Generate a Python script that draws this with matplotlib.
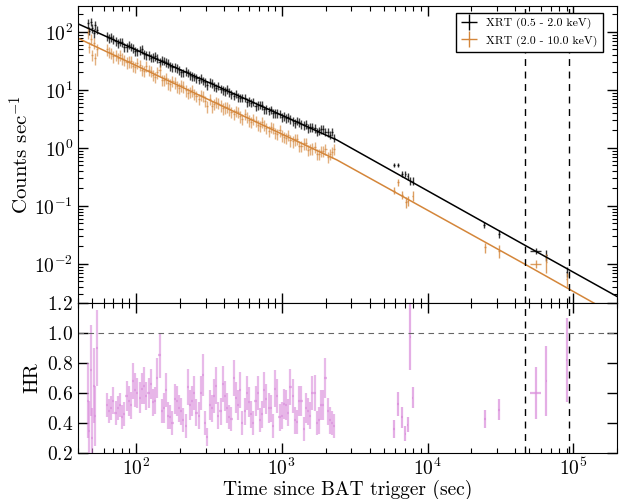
#!/usr/bin/env python3
"""
Swift XRT light curve in two bands with hardness ratio panel.
"""

import matplotlib
matplotlib.use("Agg")
import matplotlib.pyplot as plt
import matplotlib.ticker as ticker
from matplotlib.lines import Line2D
import numpy as np

plt.rcParams["font.family"] = "serif"
plt.rcParams["font.serif"] = ["cmr10"]
plt.rcParams["mathtext.fontset"] = "cm"
plt.rcParams["axes.unicode_minus"] = False

# ---- data ----
T_DENSE = [46.8, 47.9, 49.0, 50.1, 51.3, 52.5, 53.7,
           63.1, 67.6, 72.4, 77.6, 83.2, 89.1, 95.5,
           102, 110, 117, 126, 135, 145, 155, 166, 178, 191,
           204, 219, 234, 251, 269, 288, 309, 331, 355, 380,
           407, 437, 468, 501, 537, 575, 617, 661, 708, 759,
           813, 871, 933, 1000, 1072, 1148, 1230, 1318, 1413, 1514,
           1622, 1738, 1862, 1995, 2138, 2291]

SOFT_DENSE = [140, 105, 150, 115, 95, 130, 110,
              85, 82, 70, 68, 55, 60, 52,
              46, 50, 40, 36, 38, 30, 32, 29, 25, 24,
              20, 21, 18, 17, 15, 14.5, 12, 13, 11, 10.5,
              9.5, 9.2, 8.0, 7.5, 7.4, 6.2, 6.0, 5.2, 5.6, 4.6,
              4.4, 4.0, 4.0, 3.4, 3.3, 3.1, 2.7, 2.8, 2.5, 2.2,
              2.3, 1.9, 2.1, 1.9, 1.7, 1.5]

HARD_DENSE = [95, 55, 75, 40, 65, 35, 50,
              50, 44, 40, 40, 33, 31, 26,
              29, 22, 26, 21, 17, 22, 15, 13, 14.5, 11.5,
              12, 9.8, 9.2, 8.6, 7.0, 8.0, 5.2, 5.2, 6.2, 5.4,
              5.0, 4.6, 3.9, 4.2, 3.2, 3.4, 2.8, 2.9, 2.4, 2.5,
              1.95, 2.2, 1.75, 1.65, 1.5, 1.35, 1.4, 1.1, 1.2, 0.92,
              0.98, 0.8, 0.88, 0.95, 0.78, 0.95]

T_DENSE2 = [65.3, 70.0, 75.0, 80.4, 86.1, 92.3, 98.9, 106, 114, 122,
            130, 140, 150, 160, 172, 184, 197, 211, 226, 243,
            260, 279, 299, 320, 343, 367, 394, 422, 452, 484,
            519, 556, 596, 638, 684, 733, 785, 841, 902, 966,
            1035, 1109, 1189, 1274, 1365, 1462, 1567, 1679, 1799, 1928,
            2065, 2213]

SOFT_DENSE2 = [78, 76, 64, 66, 55, 56, 47, 48, 41, 40,
               37, 35, 33, 30, 26, 25, 22, 20, 20, 17.5,
               16, 15.8, 13.5, 13.8, 11.5, 11.8, 10, 10.2, 8.5, 8.6,
               7.4, 7.4, 6.4, 6.3, 5.5, 5.4, 4.7, 4.6, 4.0, 3.9,
               3.5, 3.4, 2.9, 2.95, 2.6, 2.55, 2.3, 2.2, 2.0, 2.1,
               1.85, 1.9]

HARD_DENSE2 = [45, 38, 36, 35, 30, 31, 25, 27, 21, 22,
               18, 20, 15, 16, 12.5, 13.5, 11, 11.5, 9.0, 9.8,
               8.0, 8.3, 6.5, 7.0, 5.8, 6.0, 4.8, 5.1, 4.2, 4.4,
               3.5, 3.9, 3.0, 3.2, 2.5, 2.8, 2.2, 2.3, 1.8, 2.0,
               1.55, 1.7, 1.3, 1.45, 1.1, 1.2, 0.95, 1.05, 0.8, 0.9,
               0.7, 0.85]

SOFT_FRAC_ERR = 0.17
HARD_FRAC_ERR = 0.22
DENSE_FRAC_XERR = 0.017

T_SOFT_SPARSE = [5860, 6250, 6700, 7060, 7300, 7640, 7900, 24400, 30900, 55200, 65500, 90200]
SOFT_SPARSE = [0.51, 0.51, 0.356, 0.356, 0.325, 0.27, 0.27, 0.047, 0.033, 0.0169, 0.0143, 0.0074]
SOFT_SPARSE_ERR = [0.05, 0.05, 0.04, 0.04, 0.04, 0.04, 0.04, 0.005, 0.005, 0.002, 0.003, 0.0015]
SOFT_SPARSE_XERR = [100, 100, 100, 100, 100, 100, 100, 300, 300, 4500, 600, 600]

T_HARD_SPARSE = [5860, 6250, 6700, 7130, 7300, 7900, 24700, 30900, 55200, 65500, 90200]
HARD_SPARSE = [0.184, 0.256, 0.155, 0.116, 0.124, 0.151, 0.0194, 0.0169, 0.0100, 0.011, 0.0055]
HARD_SPARSE_ERR = [0.025, 0.035, 0.025, 0.025, 0.025, 0.03, 0.004, 0.004, 0.0015, 0.004, 0.0015]
HARD_SPARSE_XERR = [100, 100, 100, 100, 100, 100, 300, 300, 4500, 600, 600]

# broken power-law fits
FIT_T_SOFT = [40, 2390, 3470, 48400, 2.02e5]
FIT_SOFT = [138, 1.37, 0.81, 0.0199, 0.0027]
FIT_T_HARD = [40, 2390, 47600, 2.02e5]
FIT_HARD = [77.8, 0.621, 0.0096, 0.00124]

HR_DENSE = [0.55, 0.35, 0.75, 0.30, 0.65, 0.45, 0.90,
            0.52, 0.50, 0.47, 0.52, 0.46, 0.55, 0.68,
            0.60, 0.63, 0.58, 0.66, 0.55, 0.85, 0.50, 0.45, 0.40, 0.55,
            0.48, 0.38, 0.52, 0.60, 0.45, 0.72, 0.31, 0.50, 0.65, 0.48,
            0.58, 0.44, 0.70, 0.52, 0.40, 0.60, 0.46, 0.55, 0.42, 0.62,
            0.50, 0.38, 0.58, 0.45, 0.52, 0.64, 0.42, 0.55, 0.36, 0.48,
            0.60, 0.40, 0.52, 0.70, 0.42, 0.38]
HR_DENSE_ERR = [0.25, 0.20, 0.30, 0.20, 0.25, 0.20, 0.25,
                0.08, 0.08, 0.08, 0.08, 0.08, 0.10, 0.12,
                0.10, 0.10, 0.09, 0.10, 0.09, 0.15, 0.10, 0.09, 0.08, 0.10,
                0.09, 0.08, 0.10, 0.11, 0.09, 0.14, 0.06, 0.09, 0.12, 0.09,
                0.10, 0.08, 0.12, 0.10, 0.08, 0.11, 0.09, 0.10, 0.08, 0.12,
                0.10, 0.08, 0.11, 0.09, 0.10, 0.12, 0.09, 0.10, 0.08, 0.09,
                0.11, 0.08, 0.10, 0.13, 0.09, 0.08]

HR_DENSE2 = [0.48, 0.55, 0.50, 0.44, 0.58, 0.52, 0.62, 0.57, 0.65, 0.60,
             0.54, 0.70, 0.48, 0.62, 0.44, 0.56, 0.50, 0.42, 0.64, 0.55,
             0.47, 0.60, 0.40, 0.52, 0.58, 0.45, 0.66, 0.50, 0.43, 0.57,
             0.62, 0.48, 0.54, 0.40, 0.60, 0.46, 0.56, 0.50, 0.63, 0.44,
             0.53, 0.47, 0.58, 0.41, 0.55, 0.50, 0.45, 0.60, 0.42, 0.52,
             0.48, 0.40]
HR_DENSE2_ERR = [0.08, 0.09, 0.08, 0.08, 0.10, 0.09, 0.11, 0.10, 0.12, 0.10,
                 0.09, 0.13, 0.08, 0.11, 0.08, 0.10, 0.09, 0.08, 0.12, 0.10,
                 0.09, 0.11, 0.08, 0.10, 0.11, 0.09, 0.12, 0.10, 0.08, 0.10,
                 0.12, 0.09, 0.10, 0.08, 0.11, 0.09, 0.10, 0.09, 0.12, 0.09,
                 0.10, 0.09, 0.11, 0.08, 0.10, 0.10, 0.09, 0.12, 0.09, 0.10,
                 0.09, 0.08]

T_HR_SPARSE = [5860, 6250, 6700, 7060, 7300, 7640, 7900, 24700, 30900, 55200, 65500, 90200]
HR_SPARSE = [0.36, 0.53, 0.44, 0.33, 0.39, 0.97, 0.57, 0.43, 0.49, 0.60, 0.68, 0.82]
HR_SPARSE_ERR = [0.06, 0.08, 0.07, 0.05, 0.05, 0.22, 0.07, 0.06, 0.07, 0.17, 0.23, 0.28]
HR_SPARSE_XERR = [100, 100, 100, 100, 100, 100, 100, 300, 300, 4500, 600, 600]

VLINES = [4.7e4, 9.4e4]

BLACK = "black"
ORANGE = "#D4863A"
VIOLET = "#D98CDB"


def tick_style(ax):
    ax.tick_params(which="both", direction="in", top=True, right=True)
    ax.tick_params(which="major", length=7, width=1)
    ax.tick_params(which="minor", length=3.5, width=0.8)
    ax.tick_params(labelsize=14)


def main():
    fig = plt.figure(figsize=(6.19, 4.99), dpi=100)
    ax1 = fig.add_axes([0.126, 0.393, 0.871, 0.595])
    ax2 = fig.add_axes([0.126, 0.092, 0.871, 0.301], sharex=ax1)

    t_dense = np.array(T_DENSE + T_DENSE2)
    soft = np.array(SOFT_DENSE + SOFT_DENSE2)
    hard = np.array(HARD_DENSE + HARD_DENSE2)
    hr = np.array(HR_DENSE + HR_DENSE2)
    hr_err = np.array(HR_DENSE_ERR + HR_DENSE2_ERR)

    ax1.errorbar(t_dense, soft, yerr=SOFT_FRAC_ERR * soft, xerr=DENSE_FRAC_XERR * t_dense,
                 fmt="none", ecolor=BLACK, elinewidth=1.0, alpha=0.75)
    ax1.errorbar(t_dense, hard, yerr=HARD_FRAC_ERR * hard, xerr=DENSE_FRAC_XERR * t_dense,
                 fmt="none", ecolor=ORANGE, elinewidth=1.0, alpha=0.65)
    ax1.errorbar(T_SOFT_SPARSE, SOFT_SPARSE, yerr=SOFT_SPARSE_ERR, xerr=SOFT_SPARSE_XERR,
                 fmt="none", ecolor=BLACK, elinewidth=1.0, alpha=0.8)
    ax1.errorbar(T_HARD_SPARSE, HARD_SPARSE, yerr=HARD_SPARSE_ERR, xerr=HARD_SPARSE_XERR,
                 fmt="none", ecolor=ORANGE, elinewidth=1.0, alpha=0.8)

    ax1.plot(FIT_T_SOFT, FIT_SOFT, color=BLACK, lw=1.1)
    ax1.plot(FIT_T_HARD, FIT_HARD, color=ORANGE, lw=1.1)

    for ax in (ax1, ax2):
        for v in VLINES:
            ax.axvline(v, color=BLACK, ls=(0, (5, 4)), lw=1.0)

    ax1.set_xscale("log")
    ax1.set_yscale("log")
    ax1.set_xlim(40, 2e5)
    ax1.set_ylim(2.13e-3, 280)
    ax1.yaxis.set_major_locator(ticker.LogLocator(base=10, numticks=10))
    ax1.yaxis.set_minor_locator(ticker.LogLocator(base=10, subs=np.arange(2, 10), numticks=10))
    ax1.yaxis.set_major_formatter(ticker.FuncFormatter(
        lambda v, p: r"$\mathbf{10^{%d}}$" % round(np.log10(v))))
    ax1.set_ylabel(r"Counts sec$^{-1}$", fontsize=15, labelpad=1)
    ax1.tick_params(labelbottom=False)
    tick_style(ax1)

    handles = [Line2D([], [], color=BLACK, marker="+", ls="none", markersize=11, mew=1.0),
               Line2D([], [], color=ORANGE, marker="+", ls="none", markersize=11, mew=1.0)]
    leg = ax1.legend(handles, ["XRT (0.5 - 2.0 keV)", "XRT (2.0 - 10.0 keV)"],
                     loc="upper right", bbox_to_anchor=(0.974, 0.978),
                     fontsize=8.5, fancybox=False, framealpha=1,
                     edgecolor=BLACK, borderaxespad=0, handlelength=1.2,
                     handletextpad=0.9, borderpad=0.45)
    leg.get_frame().set_linewidth(1.0)

    # hardness ratio
    ax2.errorbar(t_dense, hr, yerr=hr_err, xerr=DENSE_FRAC_XERR * t_dense,
                 fmt="none", ecolor=VIOLET, elinewidth=1.6, alpha=0.6)
    ax2.errorbar(T_HR_SPARSE, HR_SPARSE, yerr=HR_SPARSE_ERR, xerr=HR_SPARSE_XERR,
                 fmt="none", ecolor=VIOLET, elinewidth=1.6, alpha=0.7)
    ax2.axhline(1.0, color="#666666", ls=(0, (5, 4)), lw=0.8)

    ax2.set_ylim(0.2, 1.2)
    ax2.yaxis.set_major_locator(ticker.MultipleLocator(0.2))
    ax2.yaxis.set_major_formatter(ticker.FuncFormatter(lambda v, p: r"$\mathbf{%.1f}$" % v))
    ax2.xaxis.set_major_formatter(ticker.FuncFormatter(
        lambda v, p: r"$\mathbf{10^{%d}}$" % round(np.log10(v))))
    ax2.set_ylabel("HR", fontsize=15)
    ax2.set_xlabel("Time since BAT trigger (sec)", fontsize=14, labelpad=0)
    tick_style(ax2)

    fig.savefig("out.png", dpi=100)
    plt.close(fig)


if __name__ == "__main__":
    main()
